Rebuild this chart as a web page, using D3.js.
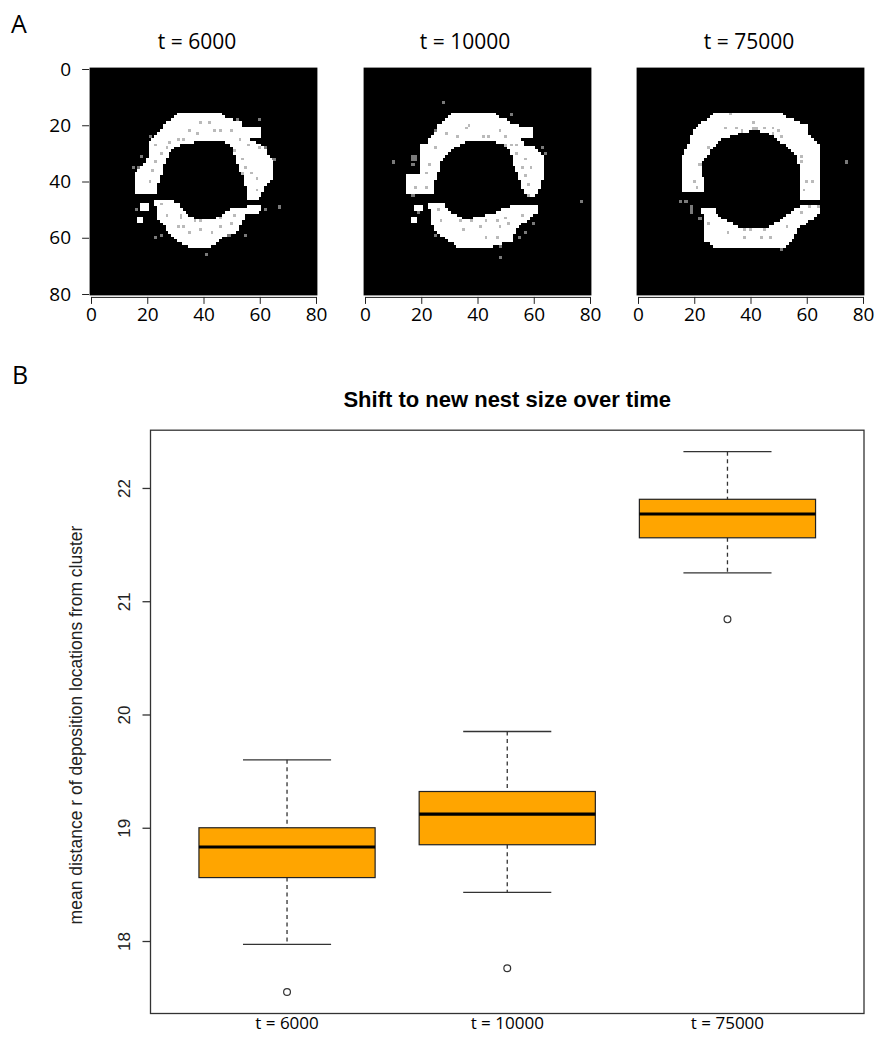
<!DOCTYPE html>
<meta charset="utf-8">
<script src="https://d3js.org/d3.v7.min.js"></script>
<style>
  body { margin: 0; background: #fff; }
  text { font-family: "Liberation Sans", Arial, sans-serif; }
  .calib { font-family: "Open Sans", sans-serif; }
</style>
<div id="chart"></div>
<script>

// ---------- panel A : deposition maps (grid units 0..80, y down) ----------
var panelTitles = ["t = 6000", "t = 10000", "t = 75000"]
var gridTicks = [0, 20, 40, 60, 80]

// outlines of the white areas
var ringUpper6000 = [[31.1,15.7],[46.5,15.7],[47.1,17.1],[53.6,18.9],[53.6,20],[60.1,20.6],[60.1,24.2],[56.6,24.8],[60.7,27.2],[64.3,31.9],[64.3,39],[61.9,42],[59.5,46.7],[56,46.7],[55.4,43.8],[54.2,37.8],[52.4,35.5],[51.2,30.7],[50.1,27.2],[47.7,26],[43,26],[40.6,25.4],[32.3,26.6],[29.3,28.3],[26.3,31.9],[25.1,36.7],[24,40.8],[24,44.4],[15.2,44.4],[15.1,37.8],[18,34.9],[20.4,30.7],[20.4,26],[22.8,24.2],[25.7,20.6],[25.7,19.5],[28.7,17.7]]
var ringLower6000 = [[22.8,46.6],[31.1,47.1],[32.3,49.7],[35.8,52.7],[40.6,53.9],[45.3,52.7],[48.9,50.3],[53,49.1],[60.7,48.8],[60.7,50.9],[54.8,51.5],[53.6,54.4],[51.2,58.6],[47.7,59.2],[44.1,62.2],[40.6,64],[35.8,64],[29.9,60.4],[26.3,56.2],[24,53.3],[22.8,47.3]]
var blobs6000 = [[[17.6,47.6],[20.4,47.6],[20.4,50.4],[17.6,50.4]], [[16.6,52.6],[18.4,52.6],[18.4,54.4],[16.6,54.4]]]
var specks6000 = [[39,19],[42,19],[35,22],[38,23],[44,22],[46,22],[50,22],[31,25],[33,25],[28,26],[23,27],[27,28],[25,30],[23,33],[22,36],[21,40],[51,29],[54,32],[55,35],[54,37],[57,37],[59,39],[59,43],[53,25],[56,27],
  [25,48],[27,52],[32,52],[32,53],[31,56],[33,56],[37,54],[39,54],[39,57],[35,58],[43,58],[46,56],[50,55],[51,52],[46,53],[49,59],
  [21,24],[18,31],[15,35],[17,35],[60,18],[60,28],[62,28],[65,32],[67,49],[62,50],[16,50],[23,60],[25,59],[41,66],[55,59],[52,18]]

var ringUpper10000 = [[30.5,15.7],[46.5,15.7],[47.1,17.1],[51.2,18.3],[51.2,19.5],[59.5,20.6],[59.5,24.2],[56,25],[57,27],[60.7,28],[63.1,30.7],[63.8,36.7],[62.5,42],[60.7,45.5],[57.5,45.5],[56.5,44],[55,39],[53,34],[52,30],[50.5,27.5],[47,26],[43.5,26],[41,25],[37,25.5],[32,27.5],[29.5,29.5],[27,33],[26,37],[25,40],[24.5,42],[24,44.4],[14.5,44.4],[14.5,37.8],[19.5,37],[20,34],[20,26.5],[22.5,26],[23.5,24],[25.5,22.5],[25.5,20],[28,19]]
var ringLower10000 = [[22.8,47.3],[28.1,47.3],[28.7,49.7],[32.3,52.1],[35.8,53.3],[40.6,52.7],[46.5,50.9],[51.2,49.1],[53,48.5],[61.3,48.5],[61.3,50.9],[59.5,52.1],[57.2,54.4],[53.6,56.2],[52.4,61.6],[46.5,62.2],[44.1,64],[33.5,64],[29.9,61],[25.2,58],[23.4,54.4]]
var blobs10000 = [[[17.6,48.4],[20.4,48.4],[20.4,50.9],[17.6,50.9]], [[16.6,52.6],[18.4,52.6],[18.4,54.4],[16.6,54.4]]]
var specks10000 = [[37,20],[36,21],[29,23],[33,24],[42,24],[44,24],[48,22],[50,24],[52,27],[54,27],[50,27],[25,28],[23,34],[22,37],[18,42],[22,42],[54,30],[57,32],[56,35],[57,38],[58,41],[58,45],[59,35],
  [26,50],[27,54],[34,54],[35,57],[38,54],[41,56],[43,54],[47,54],[48,56],[50,53],[51,55],[56,52],[43,60],[47,60],
  [25,22],[17,31],[18,31],[17,32],[18,32],[17,34],[63,28],[64,30],[52,16],[17,45],[19,51],[25,59],[48,63],[48,67],[60,55],[57,58],[55,60],[10,33],[77,47],[28,12]]

var ringUpper75000 = [[26.3,15.7],[51.2,15.7],[53,17.1],[57.2,18.9],[60.1,20],[60.1,22.4],[62.5,24.8],[64.9,28.3],[64.9,46.2],[57.8,46.2],[57.8,43.8],[57.8,36],[56,30.7],[52.4,27.2],[47.7,23.6],[42.9,21.8],[40.6,21.8],[35.8,23],[29.9,24.8],[26.3,28.3],[22.8,33.1],[22.2,36.7],[24,40.8],[23.4,44],[15.1,44],[15.1,31.9],[18,26.6],[19.8,21.2],[24,18.3]]
var ringLower75000 = [[22.8,49.1],[26.9,49.7],[29.9,53.3],[35.8,56.2],[46.5,56.2],[51.2,53.3],[56,49.7],[58.4,48.5],[64.3,48.5],[64.3,50.9],[61.9,53.3],[57.2,56.2],[54.8,60.4],[51.2,64],[27.5,64],[24,61],[23.4,55.6]]
var blobs75000 = []
var specks75000 = [[31,21],[35,21],[37,22],[41,19],[41,21],[42,21],[45,21],[48,21],[50,22],[48,23],[51,24],[25,28],[22,34],[20,40],[21,42],[58,31],[58,33],[60,40],[62,40],[59,43],[33,16],
  [25,55],[32,58],[38,57],[40,57],[38,60],[44,60],[47,60],[45,57],[53,56],[58,51],[61,49],
  [15,47],[17,47],[19,49],[19,50],[19,51],[64,49],[51,64],[22,53],[74,33]]

var maps = [
  { upper: ringUpper6000, lower: ringLower6000, blobs: blobs6000, specks: specks6000 },
  { upper: ringUpper10000, lower: ringLower10000, blobs: blobs10000, specks: specks10000 },
  { upper: ringUpper75000, lower: ringLower75000, blobs: blobs75000, specks: specks75000 }
]

// ---------- panel B : boxplot ----------
var groups = ["t = 6000", "t = 10000", "t = 75000"]
var whiskerLow  = [17.97, 18.43, 21.25]
var q1          = [18.56, 18.85, 21.56]
var median      = [18.83, 19.12, 21.77]
var q3          = [19.00, 19.32, 21.90]
var whiskerHigh = [19.60, 19.85, 22.32]
var outliers    = [17.55, 17.76, 20.84]
var yTicks = [18, 19, 20, 21, 22]

var svg = d3.select("#chart").append("svg")
  .attr("width", 878)
  .attr("height", 1057)

// panel letters
svg.append("text").attr("class", "calib").attr("x", 11).attr("y", 33)
  .style("font-size", "25px").text("A")
svg.append("text").attr("class", "calib").attr("x", 12).attr("y", 384)
  .style("font-size", "25px").text("B")

// ---- draw the three maps ----
var mapLeft = [91, 365, 638]
var titleX = [197, 465, 749]

maps.forEach(function(m, i) {
  var x = d3.scaleLinear().domain([0, 80]).range([mapLeft[i], mapLeft[i] + 225])
  var y = d3.scaleLinear().domain([0, 80]).range([69, 294])
  var g = svg.append("g")

  // build the 81 x 81 grid from the outlines
  var cells = []
  for (var r = 0; r <= 80; r++) {
    for (var c = 0; c <= 80; c++) {
      var p = [c, r]
      var white = d3.polygonContains(m.upper, p) || d3.polygonContains(m.lower, p) ||
        m.blobs.some(function(b) { return d3.polygonContains(b, p) })
      cells.push({ c: c, r: r, v: white ? 1 : 0 })
    }
  }
  m.specks.forEach(function(s) {
    var cell = cells[s[1] * 81 + s[0]]
    cell.v = cell.v === 1 ? 0.62 : 0.4
  })

  var cw = x(1) - x(0)
  g.append("rect")
    .attr("x", x(-0.5)).attr("y", y(-0.5))
    .attr("width", x(80.5) - x(-0.5)).attr("height", y(80.5) - y(-0.5))
    .attr("fill", "#000")

  g.selectAll("rect.cell")
    .data(cells.filter(function(d) { return d.v > 0 }))
    .enter().append("rect")
      .attr("class", "cell")
      .attr("x", function(d) { return x(d.c - 0.5) })
      .attr("y", function(d) { return y(d.r - 0.5) })
      .attr("width", cw + 0.3)
      .attr("height", cw + 0.3)
      .attr("fill", function(d) { return d3.interpolateGreys(1 - d.v) })
      .attr("shape-rendering", "crispEdges")

  // x axis
  var xa = g.append("g")
    .attr("transform", "translate(0," + (y(80.5) + 1.5) + ")")
    .call(d3.axisBottom(x).tickValues(gridTicks).tickSize(7).tickSizeOuter(0))
  xa.selectAll("text").attr("class", "calib").attr("y", 11)
    .style("font-size", "19px").attr("fill", "#000")
  xa.selectAll("line, path").attr("stroke", "#222")

  if (i === 0) {
    var ya = g.append("g")
      .attr("transform", "translate(" + (x(-0.5) - 0.5) + ",0)")
      .call(d3.axisLeft(y).tickValues(gridTicks).tickSize(7).tickSizeOuter(0))
    ya.selectAll("text").attr("class", "calib").attr("x", -18)
      .style("font-size", "19px").attr("fill", "#000")
    ya.select("path").remove()
    ya.selectAll("line").attr("stroke", "#222")
  }

  svg.append("text").attr("class", "calib")
    .attr("x", titleX[i]).attr("y", 49)
    .attr("text-anchor", "middle")
    .style("font-size", "21px")
    .text(panelTitles[i])
})

// ---- boxplot ----
var bx = d3.scaleLinear().domain([0.38, 3.62]).range([150.5, 864])
var by = d3.scaleLinear().domain([17.36, 22.51]).range([1013.5, 430.2])
var bw = 0.4, cap = 0.2

svg.append("text")
  .attr("x", (bx(0.38) + bx(3.62)) / 2).attr("y", 407)
  .attr("text-anchor", "middle")
  .style("font-size", "22px").style("font-weight", "bold")
  .text("Shift to new nest size over time")

var boxes = svg.append("g")
groups.forEach(function(gname, i) {
  var cx = bx(i + 1)
  // whiskers
  boxes.append("line")
    .attr("x1", cx).attr("x2", cx).attr("y1", by(whiskerHigh[i])).attr("y2", by(q3[i]))
    .attr("stroke", "#333").attr("stroke-width", 1.3).attr("stroke-dasharray", "4,3.5")
  boxes.append("line")
    .attr("x1", cx).attr("x2", cx).attr("y1", by(q1[i])).attr("y2", by(whiskerLow[i]))
    .attr("stroke", "#333").attr("stroke-width", 1.3).attr("stroke-dasharray", "4,3.5")
  ;[whiskerHigh[i], whiskerLow[i]].forEach(function(v) {
    boxes.append("line")
      .attr("x1", bx(i + 1 - cap)).attr("x2", bx(i + 1 + cap))
      .attr("y1", by(v)).attr("y2", by(v))
      .attr("stroke", "#333").attr("stroke-width", 1.3)
  })
  boxes.append("rect")
    .attr("x", bx(i + 1 - bw)).attr("y", by(q3[i]))
    .attr("width", bx(i + 1 + bw) - bx(i + 1 - bw))
    .attr("height", by(q1[i]) - by(q3[i]))
    .attr("fill", "#FFA500").attr("stroke", "#222").attr("stroke-width", 1.2)
  boxes.append("line")
    .attr("x1", bx(i + 1 - bw)).attr("x2", bx(i + 1 + bw))
    .attr("y1", by(median[i])).attr("y2", by(median[i]))
    .attr("stroke", "#000").attr("stroke-width", 3.2)
  boxes.append("circle")
    .attr("cx", cx).attr("cy", by(outliers[i])).attr("r", 3.4)
    .attr("fill", "none").attr("stroke", "#333").attr("stroke-width", 1.2)

  svg.append("text").attr("class", "calib")
    .attr("x", cx).attr("y", 1029)
    .attr("text-anchor", "middle")
    .style("font-size", "17px")
    .text(gname)
})

// frame
svg.append("rect")
  .attr("x", bx(0.38)).attr("y", by(22.51))
  .attr("width", bx(3.62) - bx(0.38)).attr("height", by(17.36) - by(22.51))
  .attr("fill", "none").attr("stroke", "#333").attr("stroke-width", 1.3)

// y axis (R style: labels parallel to the axis)
var yAxis = svg.append("g")
  .attr("transform", "translate(" + bx(0.38) + ",0)")
  .call(d3.axisLeft(by).tickValues(yTicks).tickSize(8).tickFormat(d3.format("d")))
yAxis.select("path").remove()
yAxis.selectAll("line").attr("stroke", "#333").attr("stroke-width", 1.3)
yAxis.selectAll("text")
  .attr("x", null).attr("dy", null).attr("y", 0)
  .attr("text-anchor", "middle")
  .attr("transform", "translate(-21,0) rotate(-90)")
  .style("font-size", "17px").attr("fill", "#222")

svg.append("text")
  .attr("transform", "translate(82,725) rotate(-90)")
  .attr("text-anchor", "middle")
  .style("font-size", "17.5px").attr("fill", "#222")
  .text("mean distance r of deposition locations from cluster")

</script>
